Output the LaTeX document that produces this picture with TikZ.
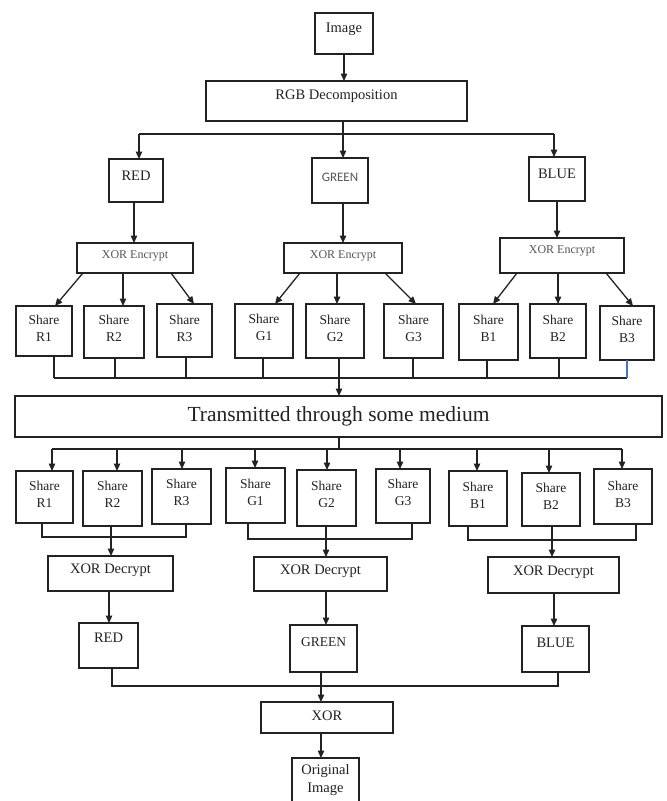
\documentclass[tikz,border=0pt]{standalone}
\usepackage{fontspec}
\setmainfont{Liberation Serif}
\newfontfamily\calib{Carlito}
\usetikzlibrary{arrows.meta}
\definecolor{ink}{HTML}{222222}
\definecolor{soft}{HTML}{555555}
\definecolor{bline}{HTML}{4472C4}
\tikzset{
  boxst/.style={draw=ink, line width=1.4pt, rectangle, inner sep=0pt, outer sep=0pt},
  txt/.style={inner sep=0pt, align=center, text=ink},
  ln/.style={draw=ink, line width=1.3pt},
  arr/.style={ln, -{Triangle[length=7.5pt,width=6.5pt]}},
  f14/.style={font=\fontsize{14.5}{17}\selectfont},
  fsh/.style={font=\fontsize{13.5}{17}\selectfont},
  fenc/.style={font=\fontsize{12}{14}\selectfont, text=soft},
}
\newcommand\mybox[8]{%
  \node[boxst, minimum width=#4pt, minimum height=#5pt] (#1) at (#2,#3) {};
  \node[txt, #7] (#1-t) at (#2,#6) {#8};
}
\begin{document}
\begin{tikzpicture}[x=1pt, y=-1pt]
\useasboundingbox (0,0) rectangle (667,801);
\fill[white] (0,0) rectangle (667,801);
\clip (0,0) rectangle (667,801);

% ---- top part
\mybox{img}{344}{33.5}{58}{41}{29}{f14}{Image}
\mybox{rgb}{336.5}{101}{261}{40}{96}{f14}{RGB Decomposition}
\mybox{red}{136}{180.5}{54}{43}{176}{f14}{RED}
\mybox{green}{340}{180.5}{56}{45}{177}{font=\calib\fontsize{13}{15}\selectfont, text=soft}{GREEN}
\mybox{blue}{557}{179}{56}{44}{174}{f14}{BLUE}
\mybox{encR}{135}{258}{116}{30}{256}{fenc}{XOR Encrypt}
\mybox{encG}{343}{258}{118}{30}{256}{fenc}{XOR Encrypt}
\mybox{encB}{562}{255.5}{124}{35}{251}{fenc}{XOR Encrypt}

\mybox{sR1}{44}{331}{56}{50}{328}{fsh}{Share\\R1}
\mybox{sR2}{114}{332}{60}{52}{328}{fsh}{Share\\R2}
\mybox{sR3}{184.5}{330.5}{55}{53}{328}{fsh}{Share\\R3}
\mybox{sG1}{264}{331}{58}{54}{327}{fsh}{Share\\G1}
\mybox{sG2}{335}{331}{58}{54}{328}{fsh}{Share\\G2}
\mybox{sG3}{413.5}{331}{59}{54}{328}{fsh}{Share\\G3}
\mybox{sB1}{488.5}{332}{59}{56}{328}{fsh}{Share\\B1}
\mybox{sB2}{558}{331}{56}{54}{328}{fsh}{Share\\B2}
\mybox{sB3}{627}{333}{54}{54}{329}{fsh}{Share\\B3}

\mybox{trans}{338.5}{416.5}{647}{41}{416}{font=\fontsize{21.5}{24}\selectfont}{Transmitted through some medium}

% ---- bottom part
\mybox{bR1}{44.5}{497}{57}{52}{494}{fsh}{Share\\R1}
\mybox{bR2}{112.5}{498.5}{59}{55}{494}{fsh}{Share\\R2}
\mybox{bR3}{181.5}{496.5}{59}{55}{492}{fsh}{Share\\R3}
\mybox{bG1}{255.5}{495.5}{59}{55}{492}{fsh}{Share\\G1}
\mybox{bG2}{326.5}{498}{59}{56}{494}{fsh}{Share\\G2}
\mybox{bG3}{403}{496}{54}{54}{492}{fsh}{Share\\G3}
\mybox{bB1}{478}{498.5}{58}{55}{495}{fsh}{Share\\B1}
\mybox{bB2}{551}{499.5}{58}{53}{496}{fsh}{Share\\B2}
\mybox{bB3}{623}{496.5}{58}{55}{494}{fsh}{Share\\B3}

\mybox{decR}{110.5}{573.5}{125}{35}{570}{f14}{XOR Decrypt}
\mybox{decG}{320.5}{574}{133}{34}{571}{f14}{XOR Decrypt}
\mybox{decB}{553.5}{575}{131}{36}{572}{f14}{XOR Decrypt}

\mybox{redB}{108.5}{645.5}{59}{45}{638}{f14}{RED}
\mybox{greenB}{323.5}{648.5}{67}{47}{642}{font=\fontsize{13.5}{16}\selectfont}{GREEN}
\mybox{blueB}{555.5}{649}{67}{46}{643}{f14}{BLUE}

\mybox{xor}{327}{717.5}{132}{31}{716}{f14}{XOR}
\mybox{orig}{325.5}{790}{67}{64}{780}{font=\fontsize{14.5}{18}\selectfont}{Original\\Image}

% ---- bus coordinates
\coordinate (bus0) at (0,134);
\coordinate (bus1) at (0,378);
\coordinate (bus2) at (0,449);
\coordinate (gR) at (0,537);
\coordinate (gG) at (0,539);
\coordinate (gB) at (0,540);
\coordinate (bus3) at (0,686);

% ---- top connectors
\draw[arr] (img.south) -- (img.south |- rgb.north);
\draw[arr] ([xshift=3pt]green.north |- rgb.south) -- ([xshift=3pt]green.north);
\draw[ln] ([xshift=3pt]red.north |- bus0) -- ([xshift=-3pt]blue.north |- bus0);
\draw[arr] ([xshift=3pt]red.north |- bus0) -- ([xshift=3pt]red.north);
\draw[arr] ([xshift=-3pt]blue.north |- bus0) -- ([xshift=-3pt]blue.north);

\draw[arr] ([xshift=-2pt]red.south) -- ([xshift=-2pt]red.south |- encR.north);
\draw[arr] (encG.north |- green.south) -- (encG.north);
\draw[arr] (blue.south) -- (blue.south |- encB.north);

\draw[arr] ([xshift=-52pt]encR.south) -- ([xshift=11pt]sR1.north);
\draw[arr] ([xshift=-12pt]encR.south) -- ([xshift=9pt]sR2.north);
\draw[arr] ([xshift=36pt]encR.south) -- ([xshift=9.5pt]sR3.north);
\draw[arr] ([xshift=-43pt]encG.south) -- ([xshift=11pt]sG1.north);
\draw[arr] ([xshift=-6pt]encG.south) -- ([xshift=2pt]sG2.north);
\draw[arr] ([xshift=42pt]encG.south) -- ([xshift=2.5pt]sG3.north);
\draw[arr] ([xshift=-45pt]encB.south) -- ([xshift=4.5pt]sB1.north);
\draw[arr] ([xshift=-4pt]encB.south) -- ([xshift=0pt]sB2.north);
\draw[arr] ([xshift=44pt]encB.south) -- ([xshift=6pt]sB3.north);

% ---- shares to transmission
\draw[ln] ([xshift=10pt]sR1.south) -- ([xshift=10pt]sR1.south |- bus1);
\draw[ln] ([xshift=1pt]sR2.south) -- ([xshift=1pt]sR2.south |- bus1);
\draw[ln] ([xshift=1.5pt]sR3.south) -- ([xshift=1.5pt]sR3.south |- bus1);
\draw[ln] ([xshift=-1pt]sG1.south) -- ([xshift=-1pt]sG1.south |- bus1);
\draw[ln] ([xshift=4pt]sG2.south) -- ([xshift=4pt]sG2.south |- bus1);
\draw[ln] ([xshift=-0.5pt]sG3.south) -- ([xshift=-0.5pt]sG3.south |- bus1);
\draw[ln] ([xshift=-1.5pt]sB1.south) -- ([xshift=-1.5pt]sB1.south |- bus1);
\draw[ln] ([xshift=1pt]sB2.south) -- ([xshift=1pt]sB2.south |- bus1);
\draw[ln] ([xshift=10pt]sR1.south |- bus1) -- (sB3.south |- bus1);
\draw[ln, draw=bline] (sB3.south) -- (sB3.south |- bus1);
\draw[arr] ([xshift=0.5pt]trans.north |- bus1) -- ([xshift=0.5pt]trans.north);

% ---- transmission to shares
\draw[ln] ([xshift=0.5pt]trans.south) -- ([xshift=0.5pt]trans.south |- bus2);
\draw[ln] ([xshift=7.5pt]bR1.north |- bus2) -- ([xshift=-1pt]bB3.north |- bus2);
\draw[arr] ([xshift=7.5pt]bR1.north |- bus2) -- ([xshift=7.5pt]bR1.north);
\draw[arr] ([xshift=4.5pt]bR2.north |- bus2) -- ([xshift=4.5pt]bR2.north);
\draw[arr] ([xshift=0.5pt]bR3.north |- bus2) -- ([xshift=0.5pt]bR3.north);
\draw[arr] ([xshift=-0.5pt]bG1.north |- bus2) -- ([xshift=-0.5pt]bG1.north);
\draw[arr] ([xshift=0.5pt]bG2.north |- bus2) -- ([xshift=0.5pt]bG2.north);
\draw[arr] ([xshift=-3pt]bG3.north |- bus2) -- ([xshift=-3pt]bG3.north);
\draw[arr] ([xshift=-1pt]bB1.north |- bus2) -- ([xshift=-1pt]bB1.north);
\draw[arr] ([xshift=-2pt]bB2.north |- bus2) -- ([xshift=-2pt]bB2.north);
\draw[arr] ([xshift=-1pt]bB3.north |- bus2) -- ([xshift=-1pt]bB3.north);

% ---- share groups to decrypt
\draw[ln] ([xshift=-2.5pt]bR1.south) |- ([xshift=4.5pt]bR3.south |- gR) -- ([xshift=4.5pt]bR3.south);
\draw[arr] ([xshift=-1.5pt]bR2.south) -- ([xshift=-1.5pt]bR2.south |- decR.north);
\draw[ln] ([xshift=-7.5pt]bG1.south) |- ([xshift=9pt]bG3.south |- gG) -- ([xshift=9pt]bG3.south);
\draw[arr] ([xshift=-0.5pt]bG2.south) -- ([xshift=-0.5pt]bG2.south |- decG.north);
\draw[ln] ([xshift=-10pt]bB1.south) |- ([xshift=13pt]bB3.south |- gB) -- ([xshift=13pt]bB3.south);
\draw[arr] ([xshift=1pt]bB2.south) -- ([xshift=1pt]bB2.south |- decB.north);

% ---- decrypt to colours
\draw[arr] ([xshift=0.5pt]redB.north |- decR.south) -- ([xshift=0.5pt]redB.north);
\draw[arr] ([xshift=2.5pt]greenB.north |- decG.south) -- ([xshift=2.5pt]greenB.north);
\draw[arr] ([xshift=-1.5pt]blueB.north |- decB.south) -- ([xshift=-1.5pt]blueB.north);

% ---- colours to XOR
\draw[ln] ([xshift=3.5pt]redB.south) |- ([xshift=2.5pt]blueB.south |- bus3) -- ([xshift=2.5pt]blueB.south);
\draw[arr] ([xshift=-2.5pt]greenB.south) -- ([xshift=-2.5pt]greenB.south |- xor.north);
\draw[arr] ([xshift=-6pt]xor.south) -- ([xshift=-6pt]xor.south |- orig.north);
\end{tikzpicture}
\end{document}
